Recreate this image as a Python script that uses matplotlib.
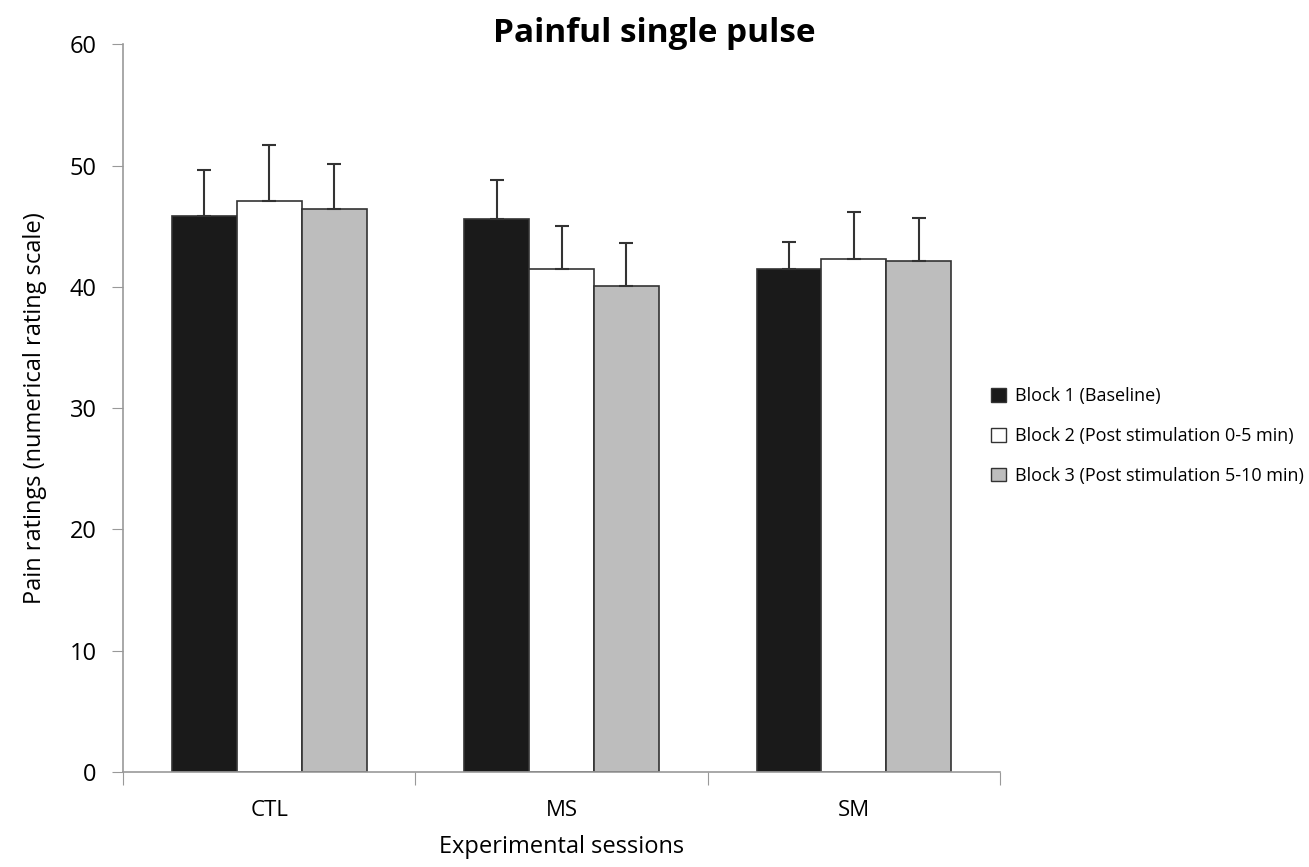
import numpy as np
import matplotlib.pyplot as plt
from matplotlib.patches import Patch

plt.rcParams['font.family'] = ['Open Sans', 'DejaVu Sans']

sessions = ['CTL', 'MS', 'SM']
block_labels = ['Block 1 (Baseline)',
                'Block 2 (Post stimulation 0-5 min)',
                'Block 3 (Post stimulation 5-10 min)']
block1 = [45.8, 45.6, 41.5]
block2 = [47.1, 41.5, 42.3]
block3 = [46.4, 40.1, 42.1]
err1 = [3.8, 3.2, 2.2]
err2 = [4.6, 3.5, 3.9]
err3 = [3.7, 3.5, 3.6]

means = [block1, block2, block3]
errs = [err1, err2, err3]
colors = ['#1a1a1a', '#ffffff', '#bdbdbd']
edge = '#333333'

fig = plt.figure(figsize=(13.09, 8.67), dpi=100)
ax = fig.add_axes([0.094, 0.1096, 0.67, 0.8394])

x = np.arange(len(sessions))
w = 0.222
for i in range(3):
    ax.bar(x + (i - 1) * w, means[i], w, color=colors[i], edgecolor=edge, linewidth=1.2,
           yerr=[np.zeros(3), errs[i]], error_kw=dict(ecolor=edge, elinewidth=1.5, capsize=5, capthick=1.5),
           label=block_labels[i], zorder=2)

ax.set_xlim(-0.5, 2.5)
ax.set_ylim(0, 60)
ax.set_yticks(np.arange(0, 61, 10))
ax.set_xticks([-0.5, 0.5, 1.5, 2.5])
ax.set_xticklabels([])
ax.set_xticks(x, minor=True)
ax.set_xticklabels(sessions, minor=True)
ax.tick_params(axis='x', which='minor', length=0, pad=20, labelsize=16)
ax.tick_params(axis='x', which='major', length=9, color='#999999', direction='out')
ax.tick_params(axis='y', length=8, color='#999999', labelsize=17, pad=11)

for s in ['top', 'right']:
    ax.spines[s].set_visible(False)
for s in ['left', 'bottom']:
    ax.spines[s].set_color('#999999')
    ax.spines[s].set_linewidth(1.2)

ax.set_ylabel('Pain ratings (numerical rating scale)', fontsize=17, labelpad=16)
ax.set_xlabel('Experimental sessions', fontsize=17)
ax.xaxis.label.set_va('baseline')
ax.xaxis.set_label_coords(0.5, -0.112)
fig.text(0.5, 0.952, 'Painful single pulse', fontsize=24, fontweight='bold', ha='center', va='baseline')

handles = [Patch(facecolor=c, edgecolor=edge, linewidth=1) for c in colors]
fig.legend(handles, block_labels, loc='center left', bbox_to_anchor=(0.745, 0.497),
           frameon=False, fontsize=13, handlelength=0.8, handleheight=0.8,
           labelspacing=1.2, handletextpad=0.5)

fig.savefig('out.png', dpi=100)
